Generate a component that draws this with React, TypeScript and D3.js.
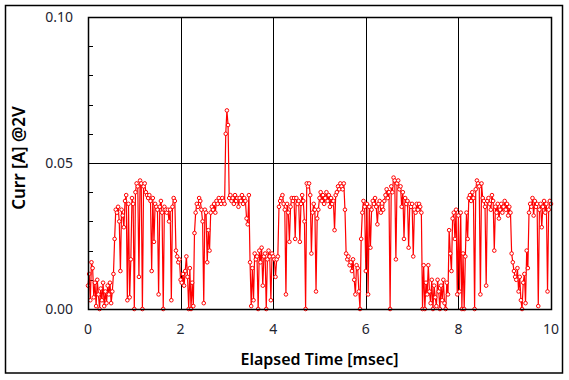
import React from "react";
import * as d3 from "d3";

// Current in mA, sampled every 0.025 msec from 0 to 10 msec
const currentMilliAmp: number[] = [
  8, 12, 3, 16, 14, 4, 9, 1, 10, 5,
  0, 7, 3, 9, 1, 6, 2, 8, 5, 9,
  2, 6, 12, 24, 34, 33, 35, 30, 13, 34,
  32, 28, 37, 39, 3, 36, 4, 17, 38, 36,
  0, 40, 43, 42, 11, 44, 43, 0, 42, 43,
  40, 39, 38, 39, 37, 13, 38, 23, 36, 35,
  34, 5, 35, 37, 33, 0, 35, 34, 33, 34,
  30, 34, 3, 35, 38, 37, 20, 18, 16, 17,
  10, 9, 12, 8, 13, 18, 11, 0, 14, 0,
  9, 1, 26, 33, 36, 35, 38, 37, 34, 30,
  2, 34, 33, 16, 27, 20, 33, 35, 34, 36,
  33, 37, 36, 38, 37, 36, 38, 37, 36, 60,
  68, 63, 38, 39, 37, 38, 36, 39, 37, 38,
  35, 38, 37, 39, 36, 38, 37, 31, 29, 39,
  16, 1, 14, 3, 19, 17, 18, 0, 20, 16,
  21, 8, 18, 19, 0, 17, 20, 18, 3, 19,
  18, 17, 11, 17, 18, 35, 37, 38, 39, 36,
  34, 5, 36, 33, 23, 35, 38, 37, 38, 24,
  38, 36, 37, 23, 36, 39, 37, 30, 0, 43,
  42, 43, 39, 19, 33, 36, 34, 6, 31, 34,
  38, 40, 37, 39, 36, 38, 40, 37, 39, 35,
  38, 36, 37, 27, 39, 40, 42, 41, 43, 42,
  41, 43, 34, 19, 17, 18, 15, 16, 13, 17,
  10, 5, 15, 14, 6, 0, 24, 33, 37, 35,
  13, 36, 5, 35, 21, 34, 37, 36, 38, 35,
  29, 36, 37, 33, 35, 34, 37, 39, 41, 38,
  40, 0, 42, 40, 45, 44, 17, 43, 44, 41,
  42, 35, 40, 24, 38, 36, 37, 21, 36, 35,
  36, 18, 34, 33, 36, 34, 36, 35, 33, 0,
  15, 0, 9, 5, 15, 6, 2, 10, 0, 8,
  4, 1, 10, 6, 0, 8, 3, 10, 2, 0,
  9, 5, 27, 19, 13, 31, 33, 24, 34, 5,
  32, 6, 33, 0, 19, 0, 18, 33, 24, 38,
  39, 37, 40, 38, 0, 41, 44, 43, 42, 5,
  43, 38, 37, 35, 8, 37, 38, 36, 34, 39,
  37, 20, 35, 33, 36, 31, 34, 36, 33, 35,
  37, 34, 36, 32, 35, 33, 19, 16, 13, 11,
  10, 14, 6, 11, 3, 0, 9, 12, 2, 20,
  14, 33, 36, 35, 38, 32, 37, 35, 36, 1,
  34, 36, 28, 35, 37, 33, 36, 6, 34, 37,
  36,
];
const sampleStepMsec = 0.025;

const xTickValues: number[] = [0, 2, 4, 6, 8, 10];
const yTickLabelValues: number[] = [0, 0.05, 0.1];
const yMinorTickValues: number[] = [0.01, 0.02, 0.03, 0.04, 0.06, 0.07, 0.08, 0.09];
const xGridValues: number[] = [2, 4, 6, 8];
const yGridValues: number[] = [0.05];

const xLabel = "Elapsed Time [msec]";
const yLabel = "Curr [A] @2V";

export default function App() {
  const W = 569;
  const H = 380;
  const left = 88;
  const right = 551;
  const top = 17;
  const bottom = 309;

  const x = d3.scaleLinear().domain([0, 10]).range([left, right]);
  const y = d3.scaleLinear().domain([0, 0.1]).range([bottom, top]);

  const pts = currentMilliAmp.map((v, i) => ({ t: i * sampleStepMsec, a: v / 1000 }));
  const line = d3
    .line<{ t: number; a: number }>()
    .x((d) => x(d.t))
    .y((d) => y(d.a));

  const font = "'Noto Sans', 'DejaVu Sans', sans-serif";

  return (
    <svg
      width={W}
      height={H}
      style={{ position: "fixed", left: 0, top: 0, background: "#fff" }}
    >
      <rect x={5.5} y={5.5} width={557} height={367.5} fill="#fff" stroke="#000" strokeWidth={1.5} />
      {xGridValues.map((v) => (
        <line key={"gx" + v} x1={Math.round(x(v)) + 0.5} x2={Math.round(x(v)) + 0.5} y1={top} y2={bottom} stroke="#000" strokeWidth={1} />
      ))}
      {yGridValues.map((v) => (
        <line key={"gy" + v} x1={left} x2={right} y1={Math.round(y(v)) + 0.5} y2={Math.round(y(v)) + 0.5} stroke="#000" strokeWidth={1} />
      ))}
      {yMinorTickValues.map((v) => (
        <line key={"mt" + v} x1={left} x2={left + 5} y1={Math.round(y(v)) + 0.5} y2={Math.round(y(v)) + 0.5} stroke="#000" strokeWidth={1} />
      ))}
      <path d={line(pts) || ""} fill="none" stroke="#ff0000" strokeWidth={1.2} />
      {pts.map((d, i) => (
        <circle key={i} cx={x(d.t)} cy={y(d.a)} r={1.8} fill="#fff" stroke="#ff0000" strokeWidth={1} />
      ))}
      <rect x={left + 0.5} y={top + 0.5} width={right - left} height={bottom - top} fill="none" stroke="#000" strokeWidth={1.5} />
      {yTickLabelValues.map((v) => (
        <text key={"yl" + v} x={73} y={y(v)} dy="0.35em" textAnchor="end" fontFamily={font} fontSize={14} fill="#1e2430">
          {d3.format(".2f")(v)}
        </text>
      ))}
      {xTickValues.map((v) => (
        <text key={"xl" + v} x={x(v)} y={329} dy="0.35em" textAnchor="middle" fontFamily={font} fontSize={14} fill="#1e2430">
          {v}
        </text>
      ))}
      <text x={(left + right) / 2} y={359} dy="0.35em" textAnchor="middle" fontFamily={font} fontSize={16} fontWeight={600} fill="#000">
        {xLabel}
      </text>
      <text
        transform={`translate(19, ${(top + bottom) / 2 - 5}) rotate(-90)`}
        dy="0.35em"
        textAnchor="middle"
        fontFamily={font}
        fontSize={17}
        fontWeight={600}
        fill="#000"
      >
        {yLabel}
      </text>
    </svg>
  );
}
